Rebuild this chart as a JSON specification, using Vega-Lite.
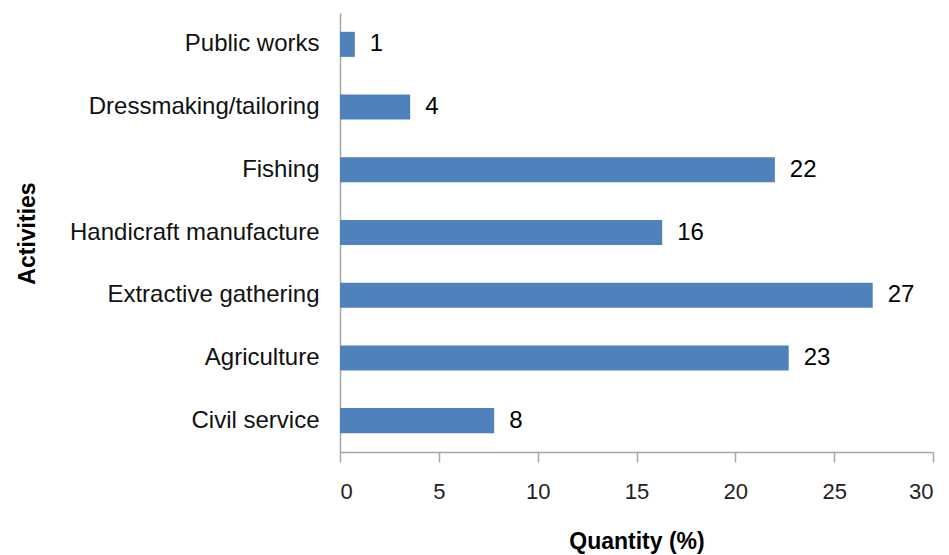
{
  "$schema": "https://vega.github.io/schema/vega-lite/v6.json",
  "width": 593,
  "height": 439,
  "autosize": {"type": "none"},
  "padding": {"left": 340, "top": 13, "right": 16, "bottom": 103},
  "background": "white",
  "config": {"view": {"stroke": null}, "font": "Liberation Sans"},
  "data": {
    "values": [
      {"activity": "Public works", "value": 0.75},
      {"activity": "Dressmaking/tailoring", "value": 3.55},
      {"activity": "Fishing", "value": 22.0},
      {"activity": "Handicraft manufacture", "value": 16.3},
      {"activity": "Extractive gathering", "value": 26.95},
      {"activity": "Agriculture", "value": 22.7},
      {"activity": "Civil service", "value": 7.8}
    ]
  },
  "encoding": {
    "y": {
      "field": "activity",
      "type": "nominal",
      "sort": null,
      "scale": {"paddingInner": 0.6, "paddingOuter": 0.3},
      "axis": {
        "title": "Activities",
        "titleFont": "Liberation Sans",
        "titleFontSize": 23,
        "titleFontWeight": "bold",
        "titleColor": "#000",
        "titleAngle": -90,
        "titleX": -313,
        "titleY": 220,
        "titleAlign": "center",
        "titleBaseline": "middle",
        "labelFont": "Liberation Sans",
        "labelFontSize": 24,
        "labelColor": "#111",
        "labelPadding": 21,
        "labelLimit": 0,
        "ticks": false,
        "domainColor": "#A6A6A6",
        "domainWidth": 1.5,
        "grid": false
      }
    },
    "x": {
      "field": "value",
      "type": "quantitative",
      "scale": {"domain": [0, 30], "nice": false},
      "axis": {
        "title": "Quantity (%)",
        "titleFont": "Liberation Sans",
        "titleFontSize": 23,
        "titleFontWeight": "bold",
        "titleColor": "#000",
        "titleY": 89,
        "titleBaseline": "middle",
        "values": [0, 5, 10, 15, 20, 25, 30],
        "labelFont": "Liberation Sans",
        "labelFontSize": 22,
        "labelColor": "#222",
        "labelPadding": 19,
        "tickSize": 10,
        "tickColor": "#A6A6A6",
        "tickWidth": 1.5,
        "domainColor": "#A6A6A6",
        "domainWidth": 1.5,
        "grid": false
      }
    }
  },
  "layer": [
    {"mark": {"type": "bar", "color": "#4F81BD"}},
    {
      "mark": {"type": "text", "align": "left", "baseline": "middle", "dx": 15, "fontSize": 24, "font": "Liberation Sans", "color": "#000"},
      "encoding": {"text": {"field": "value", "type": "quantitative", "format": ".0f"}}
    }
  ]
}
